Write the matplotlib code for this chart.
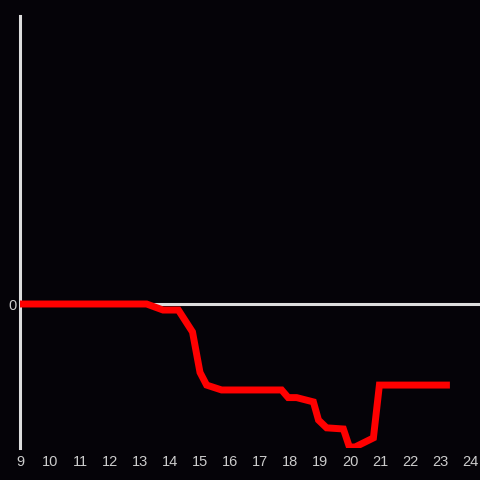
import matplotlib
matplotlib.use("Agg")
import matplotlib.pyplot as plt

hours = [9.0, 13.22, 13.77, 14.28, 14.75, 15.0, 15.22, 15.72, 17.72, 17.94, 18.22, 18.78,
         18.95, 19.22, 19.78, 19.98, 20.17, 20.78, 20.98, 23.33]
values = [0.0, 0.0, -0.42, -0.42, -1.94, -4.75, -5.63, -5.97, -5.97, -6.5, -6.5, -6.8,
          -8.06, -8.6, -8.68, -9.93, -9.93, -9.3, -5.63, -5.63]
xticks = list(range(9, 25))

bg = "#050308"
fig = plt.figure(figsize=(4.8, 4.8), dpi=100, facecolor=bg)
ax = fig.add_axes([20/480, 32/480, 460/480, 432/480], facecolor=bg)

ax.axhline(0, color="#dddddd", lw=2.2, zorder=1)
ax.plot(hours, values, color="#ff0000", lw=5, solid_joinstyle="miter",
        solid_capstyle="butt", zorder=3)

ax.set_xlim(9, 9 + 460/30)
ax.set_ylim(-10, 20)
ax.set_xticks(xticks)
ax.set_xticklabels([str(t) for t in xticks])
ax.set_yticks([0])
ax.set_yticklabels(["0"])
ax.tick_params(colors="#cccccc", length=0, labelsize=10.5)
ax.tick_params(axis="x", pad=5)
ax.tick_params(axis="y", pad=2.5)
for lab in ax.get_xticklabels() + ax.get_yticklabels():
    lab.set_color("#cccccc")
    lab.set_family("Liberation Sans")

for s in ["top", "right", "bottom"]:
    ax.spines[s].set_visible(False)
ax.spines["left"].set_color("#dddddd")
ax.spines["left"].set_linewidth(2.2)
ax.spines["left"].set_zorder(2)

fig.savefig("out.png", dpi=100, facecolor=bg)
